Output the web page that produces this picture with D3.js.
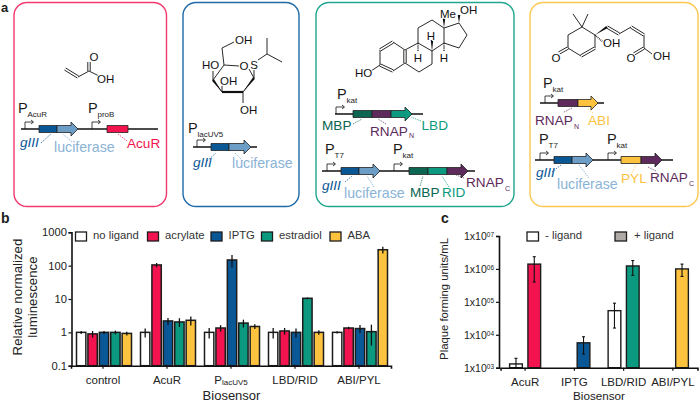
<!DOCTYPE html>
<html>
<head>
<meta charset="utf-8">
<script src="https://cdnjs.cloudflare.com/ajax/libs/d3/7.8.5/d3.min.js"></script>
<style>
html, body { margin: 0; padding: 0; background: #fff; }
text { font-family: "Liberation Sans", Arial, sans-serif; }
</style>
</head>
<body>
<svg id="fig" width="700" height="403"></svg>
<script>
const red = "#f2134f", blue = "#0a5796", green = "#0b9a80", yellow = "#fdc33f";
const lucif = "#6b9dc6", lucifText = "#8ab3d6", dkgreen = "#0c6652", purple = "#5e2a5c";
const ink = "#1c1c1c";

// panel b
const bGroups = ["control", "AcuR", "PlacUV5", "LBD/RID", "ABI/PYL"];
const bSeries = ["no ligand", "acrylate", "IPTG", "estradiol", "ABA"];
const bColors = ["#fff", red, blue, green, yellow];
const bValues = [
    [1, 0.9, 1, 1, 0.93],
    [1, 105, 2.2, 2.05, 2.3],
    [1, 1.35, 148, 1.9, 1.5],
    [1, 1.1, 1, 10.5, 1],
    [1, 1.35, 1.3, 1.05, 300]
];
const bErrors = [
    [0.1, 0.2, 0.1, 0.13, 0.12],
    [0.3, 15, 0.5, 0.6, 0.7],
    [0.35, 0.3, 60, 0.5, 0.25],
    [0.35, 0.25, 0.3, 0.6, 0.15],
    [0.08, 0.12, 0.35, 0.65, 70]
];
const bLegendX = [75.5, 147.5, 211, 261.5, 330];
const bTicks = [0.1, 1, 10, 100, 1000];

// panel c
const cGroups = ["AcuR", "IPTG", "LBD/RID", "ABI/PYL"];
const cSeries = ["- ligand", "+ ligand"];
const cNeg = [1300, null, 54000, null];
const cNegErr = [[1000, 1930], null, [16000, 91000], null];
const cPos = [1400000, 5700, 1230000, 1000000];
const cPosErr = [[400000, 2350000], [2600, 8700], [640000, 1800000], [590000, 1400000]];
const cColors = [red, blue, green, yellow];
const cTicks = [1e3, 1e4, 1e5, 1e6, 1e7];

// panel a
const frames = [
    { x: 14, y: 2.5, w: 152.5, h: 204, c: "#f4386e" },
    { x: 183, y: 2.5, w: 116, h: 204, c: "#1f6aa8" },
    { x: 316, y: 2.5, w: 198, h: 204, c: "#1fa68e" },
    { x: 530, y: 2.5, w: 168, h: 204, c: "#fcc850" }
];
// gene constructs: line y, line ends, coding parts (flagged part is an arrow)
const constructs = [
    { y: 129, x0: 21, x1: 158, parts: [[39, 57, blue], [57, 78, lucif, 1], [107, 128, red]] },
    { y: 147, x0: 193, x1: 257, parts: [[211, 229, blue], [229, 251, lucif, 1]] },
    { y: 114, x0: 335, x1: 423, parts: [[353, 372, dkgreen], [372, 391, purple], [391, 412, green, 1]] },
    { y: 171, x0: 322, x1: 475, parts: [[341, 359, blue], [359, 380, lucif, 1], [409, 428, dkgreen], [428, 447, green], [447, 468, purple, 1]] },
    { y: 103, x0: 540, x1: 604, parts: [[558, 578, purple], [578, 598, yellow, 1]] },
    { y: 160, x0: 535, x1: 673, parts: [[554, 572, blue], [572, 593, lucif, 1], [621, 641, yellow], [641, 662, purple, 1]] }
];
const promoters = [
    [18, 113, "AcuR", 25, 129], [88, 113, "proB", 92, 129],
    [188, 133, "lacUV5", 197, 147],
    [337, 99, "kat", 336, 114], [325, 154, "T7", 327, 171], [393, 154, "kat", 394, 171],
    [543, 87.5, "kat", 545, 103], [539, 144, "T7", 540, 160], [607, 144, "kat", 608, 160]
];
const geneLabels = [
    [20, 147, "gIII", blue, 1], [54, 152, "luciferase", lucifText], [127, 148, "AcuR", red],
    [193, 167, "gIII", blue, 1], [232, 168, "luciferase", lucifText],
    [322, 130, "MBP", dkgreen], [370, 136, "RNAP", purple], [421.5, 130, "LBD", green],
    [322, 190, "gIII", blue, 1], [344, 198, "luciferase", lucifText], [410, 197, "MBP", dkgreen], [442, 197, "RID", green], [466, 187, "RNAP", purple],
    [535, 125, "RNAP", purple], [588, 125, "ABI", yellow],
    [536, 177, "gIII", blue, 1], [557, 189, "luciferase", lucifText], [621, 183, "PYL", yellow], [650, 182, "RNAP", purple]
];
const geneSubs = [[409, 138, "N", purple], [505, 191, "C", purple], [574, 129, "N", purple], [689, 186, "C", purple]];
const leaders = [
    [41, 143, 51, 134, blue], [72, 142, 63, 134, lucif], [127, 141, 118, 134, red],
    [207, 161, 216, 153, blue], [243, 161, 235, 153, lucif],
    [353, 124, 362, 119, dkgreen], [386, 124, 378, 119, purple], [421, 121, 411, 117, green],
    [345, 182, 352, 176, blue], [374, 187, 367, 176, lucif], [420, 186, 423, 176, dkgreen], [449, 187, 442, 176, green], [464, 178, 456, 175, purple],
    [564, 112, 572, 108, purple], [593, 113, 587, 108, yellow],
    [552, 172, 561, 165, blue], [589, 178, 579, 165, lucif], [631, 175, 636, 165, yellow], [656, 171, 648, 167, purple]
];

// chemical structures: plain bonds, double bonds, thick bonds, wedges, hashes, atom labels
const bonds = [
    [78, 77, 89, 71], [89, 71, 99, 76],
    [222, 48, 224, 65], [222, 48, 234, 42], [224, 65, 239, 66], [249, 69, 254, 78], [254, 78, 254, 68], [258, 60, 267, 54], [267, 54, 267, 38], [267, 54, 282, 62],
    [254, 78, 243, 92], [222, 92, 213, 80], [213, 80, 224, 65], [213, 80, 213, 71], [222, 92, 222, 86], [243, 92, 243, 103],
    [393, 42, 405, 50], [405, 63, 393, 71], [380, 65, 380, 50], [380, 65, 371, 71],
    [405, 50, 418, 43], [418, 43, 432, 51], [432, 51, 432, 64], [432, 64, 419, 72], [419, 72, 405, 63],
    [418, 43, 418, 28], [418, 28, 432, 20], [432, 20, 444, 28], [444, 28, 444, 43], [444, 43, 432, 51],
    [444, 28, 459, 23], [459, 23, 467, 35], [467, 35, 459, 48], [459, 48, 444, 43],
    [568, 48, 568, 35], [568, 35, 582, 27], [582, 27, 595, 35], [595, 35, 595, 48], [581, 56, 568, 48],
    [582, 27, 573, 14], [582, 27, 588, 14], [619, 34, 631, 27], [644, 35, 644, 48], [644, 48, 652, 54]
];
const doubleBonds = [
    [65, 69, 78, 77], [89, 71, 89, 62],
    [380, 50, 393, 42], [405, 50, 405, 63], [393, 71, 380, 65],
    [595, 48, 581, 56], [568, 48, 559, 53], [607, 27, 619, 34], [631, 27, 644, 35], [644, 48, 634, 54]
];
const thickBonds = [[222, 92, 243, 92]];
const wedges = [[222, 92, 213, 80], [243, 92, 254, 78], [444, 28, 444, 18], [459, 23, 459, 15], [432, 51, 432, 40], [595, 35, 607, 27]];
const hashes = [[418, 43, 418, 52], [444, 43, 444, 52], [595, 35, 603, 42]];
const atoms = [
    [90, 61, "O"], [97, 83, "OH"],
    [235, 44, "OH"], [202, 69, "HO"], [240, 70, "O"], [250, 69, "S"], [220, 85, "OH"], [240, 114, "OH"],
    [355, 77, "HO"], [440, 18, "Me"], [460, 14, "OH"], [414, 62, "H"], [427, 40, "H"], [440, 62, "H"],
    [552, 62, "O"], [603, 47, "OH"], [627, 62, "O"], [653, 60, "OH"]
];

const svg = d3.select("#fig");

function label(x, y, str, size, fill) {
    return svg.append("text").attr("x", x).attr("y", y)
        .attr("font-size", size).attr("fill", fill || ink).text(str);
}

// --- panel a ---
label(1, 11.8, "a", 13).attr("font-weight", "bold");
label(1, 223, "b", 14).attr("font-weight", "bold");
label(441, 223, "c", 14).attr("font-weight", "bold");

svg.selectAll(".frame").data(frames).enter().append("rect")
    .attr("class", "frame")
    .attr("x", d => d.x).attr("y", d => d.y)
    .attr("width", d => d.w).attr("height", d => d.h)
    .attr("rx", 13)
    .attr("fill", "none").attr("stroke", d => d.c).attr("stroke-width", 1.4);

svg.selectAll(".leader").data(leaders).enter().append("line")
    .attr("class", "leader")
    .attr("x1", d => d[0]).attr("y1", d => d[1]).attr("x2", d => d[2]).attr("y2", d => d[3])
    .attr("stroke", d => d[4]).attr("stroke-width", 0.7).attr("stroke-dasharray", "1.5 1");

constructs.forEach(c => {
    svg.append("line").attr("x1", c.x0).attr("x2", c.x1).attr("y1", c.y).attr("y2", c.y)
        .attr("stroke", "#111").attr("stroke-width", 1.6);
    c.parts.forEach(p => {
        const t = c.y - 3.5, b = c.y + 3.5;
        const pts = p[3]
            ? [[p[0], t], [p[1] - 7, t], [p[1] - 7, c.y - 7], [p[1], c.y], [p[1] - 7, c.y + 7], [p[1] - 7, b], [p[0], b]]
            : [[p[0], t], [p[1], t], [p[1], b], [p[0], b]];
        svg.append("polygon").attr("points", pts.join(" "))
            .attr("fill", p[2]).attr("stroke", "#222").attr("stroke-width", 0.8);
    });
});

promoters.forEach(d => {
    label(d[0], d[1], "P", 14.5);
    label(d[0] + 9.5, d[1] + 4, d[2], 8);
    const x = d[3], y = d[4];
    svg.append("path")
        .attr("d", `M${x},${y}V${y - 7}H${x + 8}M${x + 6},${y - 9}L${x + 8.5},${y - 7}L${x + 6},${y - 5}`)
        .attr("fill", "none").attr("stroke", "#111").attr("stroke-width", 0.8);
});

geneLabels.forEach(d => {
    label(d[0], d[1], d[2], d[2] === "luciferase" ? 14.2 : 13.6, d[3])
        .attr("font-style", d[4] ? "italic" : "normal");
});
geneSubs.forEach(d => label(d[0], d[1], d[2], 7, d[3]));

// structures
function segs(cls, rows, width) {
    svg.selectAll("." + cls).data(rows).enter().append("line")
        .attr("class", cls)
        .attr("x1", d => d[0]).attr("y1", d => d[1]).attr("x2", d => d[2]).attr("y2", d => d[3])
        .attr("stroke", "#111").attr("stroke-width", width);
}
function shifted(rows, k) {
    return rows.map(d => {
        const dx = d[2] - d[0], dy = d[3] - d[1], l = Math.hypot(dx, dy);
        const nx = -dy / l * k, ny = dx / l * k;
        return [d[0] + nx, d[1] + ny, d[2] + nx, d[3] + ny];
    });
}
segs("bond", bonds, 0.9);
segs("thick", thickBonds, 2.2);
segs("dbl-a", shifted(doubleBonds, 1.2), 0.9);
segs("dbl-b", shifted(doubleBonds, -1.2), 0.9);
svg.selectAll(".wedge").data(wedges).enter().append("polygon")
    .attr("class", "wedge")
    .attr("points", d => {
        const dx = d[2] - d[0], dy = d[3] - d[1], l = Math.hypot(dx, dy);
        const nx = -dy / l * 1.3, ny = dx / l * 1.3;
        return [[d[0], d[1]], [d[2] + nx, d[3] + ny], [d[2] - nx, d[3] - ny]].join(" ");
    })
    .attr("fill", "#111");
segs("hash", hashes, 1.6);
svg.selectAll(".hash").attr("stroke-dasharray", "0.8 1");
atoms.forEach(d => {
    const a = d[2].length === 1 ? "middle" : "start";
    svg.append("text")
        .attr("x", a === "middle" ? d[0] + 4 : d[0]).attr("y", d[1])
        .attr("font-size", 11.5).attr("fill", "#111").attr("text-anchor", a)
        .attr("stroke", "#fff").attr("stroke-width", 2).attr("paint-order", "stroke")
        .text(d[2]);
});

// --- panel b ---
const bx = d3.scaleBand().domain(bGroups).range([71, 391]);
const bx1 = d3.scaleBand().domain(bSeries).range([5.5, 60.5]).paddingInner(0.18);
const by = d3.scaleLog().domain([0.1, 1000]).range([365.7, 232.3]);

const bg = svg.append("g");
bGroups.forEach((g, i) => {
    bg.selectAll(null).data(bSeries).enter().append("rect")
        .attr("x", s => bx(g) + bx1(s))
        .attr("width", bx1.bandwidth())
        .attr("y", (s, j) => by(bValues[i][j]))
        .attr("height", (s, j) => by(0.1) - by(bValues[i][j]))
        .attr("fill", (s, j) => bColors[j])
        .attr("stroke", ink).attr("stroke-width", 1.5);
    bg.selectAll(null).data(bSeries).enter().append("line")
        .attr("x1", s => bx(g) + bx1(s) + bx1.bandwidth() / 2)
        .attr("x2", s => bx(g) + bx1(s) + bx1.bandwidth() / 2)
        .attr("y1", (s, j) => by(bValues[i][j] - bErrors[i][j]))
        .attr("y2", (s, j) => by(bValues[i][j] + bErrors[i][j]))
        .attr("stroke", "#111").attr("stroke-width", 1.3);
});

const bAxisY = svg.append("g").attr("transform", "translate(71.5,0)")
    .call(d3.axisLeft(by).tickValues(bTicks).tickFormat(d => d).tickSize(3).tickPadding(1.5));
const bAxisX = svg.append("g").attr("transform", "translate(0,365.7)")
    .call(d3.axisBottom(bx).tickSize(3));

bAxisX.selectAll("text").filter(d => d === "PlacUV5").text(null).call(t => {
    t.append("tspan").text("P");
    t.append("tspan").attr("dy", 1.5).text("lacUV5");
});

bSeries.forEach((s, i) => {
    svg.append("rect").attr("x", bLegendX[i]).attr("y", 232)
        .attr("width", 11).attr("height", 9)
        .attr("fill", bColors[i]).attr("stroke", ink).attr("stroke-width", 1.3);
    label(bLegendX[i] + 17.5, 239, s, 11.3, "#333");
});

svg.append("text").attr("transform", "translate(22,297) rotate(-90)")
    .attr("text-anchor", "middle").attr("font-size", 13.3).attr("fill", "#222").text("Relative normalized");
svg.append("text").attr("transform", "translate(37,297) rotate(-90)")
    .attr("text-anchor", "middle").attr("font-size", 13.3).attr("fill", "#222").text("luminescence");
label(231.5, 399.5, "Biosensor", 13, "#222").attr("text-anchor", "middle");

// --- panel c ---
const cx = d3.scaleBand().domain(cGroups).range([500.5, 697.5]);
const cy = d3.scaleLog().domain([1e3, 1e7]).range([367.7, 236]);
const barW = 12.7;
const mid = g => cx(g) + cx.bandwidth() / 2;

cGroups.forEach((g, i) => {
    const drawBar = (x, v, e, fill) => {
        svg.append("rect").attr("x", x).attr("width", barW)
            .attr("y", cy(v)).attr("height", cy(1e3) - cy(v))
            .attr("fill", fill).attr("stroke", ink).attr("stroke-width", 1.4);
        const ex = x + barW / 2;
        svg.append("line").attr("x1", ex).attr("x2", ex).attr("y1", cy(e[0])).attr("y2", cy(e[1]))
            .attr("stroke", "#111").attr("stroke-width", 1.1);
        [e[0], e[1]].forEach(k => {
            svg.append("line").attr("x1", ex - 1.5).attr("x2", ex + 1.5).attr("y1", cy(k)).attr("y2", cy(k))
                .attr("stroke", "#111").attr("stroke-width", 1.1);
        });
    };
    if (cNeg[i]) drawBar(mid(g) - 15.5, cNeg[i], cNegErr[i], "#fff");
    drawBar(mid(g) + 2.8, cPos[i], cPosErr[i], cColors[i]);
});

const cAxisY = svg.append("g").attr("transform", "translate(499,0)")
    .call(d3.axisLeft(cy).tickValues(cTicks).tickFormat(d => "1x10").tickSize(3).tickPadding(2));
cAxisY.selectAll("text").append("tspan")
    .attr("dy", -2.8)
    .text(d => "0" + Math.round(Math.log10(d)));
const cAxisX = svg.append("g").attr("transform", "translate(0,367.7)")
    .call(d3.axisBottom(cx).tickSize(3));

[[527, cSeries[0], "#fff", 545], [615, cSeries[1], "#b0aaa6", 634]].forEach(d => {
    svg.append("rect").attr("x", d[0]).attr("y", 232).attr("width", 11.5).attr("height", 9)
        .attr("fill", d[2]).attr("stroke", ink).attr("stroke-width", 1.3);
    label(d[3], 239, d[1], 11.3, "#333");
});

svg.append("text").attr("transform", "translate(448,299) rotate(-90)")
    .attr("text-anchor", "middle").attr("font-size", 11.3).attr("fill", "#222").text("Plaque forming units/mL");
label(599, 400, "Biosensor", 11.7, "#222").attr("text-anchor", "middle");

// axis styling shared by both charts
[bAxisY, bAxisX, cAxisY, cAxisX].forEach(a => {
    a.selectAll(".domain").attr("stroke", "#111").attr("stroke-width", 1.6);
    a.selectAll(".tick line").attr("stroke", "#111").attr("stroke-width", 1.2);
    a.selectAll("text").attr("font-family", "Liberation Sans").attr("font-size", 11.5).attr("fill", "#222");
});
bAxisY.selectAll(".tick text").attr("font-size", 11.2);
bAxisX.selectAll(".tick text").attr("dy", "1.05em");
cAxisX.selectAll(".tick text").attr("dy", "1.1em");
cAxisY.selectAll(".tick text").attr("font-size", 10.5);
cAxisY.selectAll("tspan").attr("font-size", 6.5);
bAxisX.selectAll("tspan").filter((d, i, n) => n[i].textContent === "lacUV5").attr("font-size", 8);
</script>
</body>
</html>
